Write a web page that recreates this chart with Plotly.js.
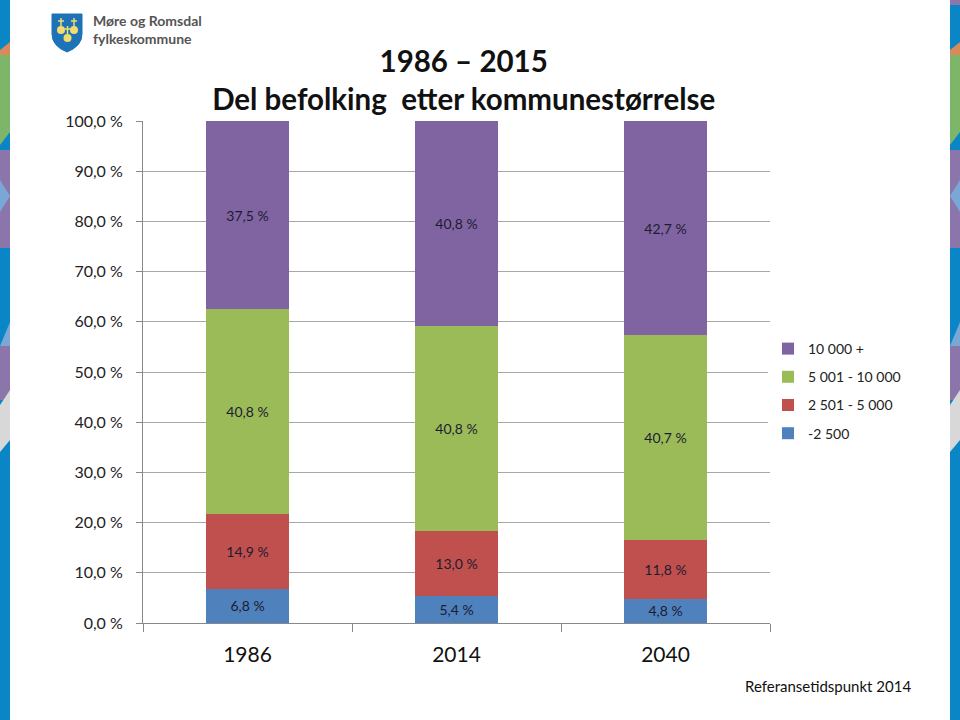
<!DOCTYPE html>
<html><head><meta charset="utf-8">
<script src="https://cdn.plot.ly/plotly-3.0.1.min.js"></script>
<style>body{margin:0;background:#fff}#chart{width:960px;height:720px}</style>
</head><body><div id="chart"></div>
<script>
const years = ["1986", "2014", "2040"];
const seriesNames = ["-2 500", "2 501 - 5 000", "5 001 - 10 000", "10 000 +"];
const small = [6.8, 5.4, 4.8];
const mid = [14.9, 13.0, 11.8];
const large = [40.8, 40.8, 40.7];
const biggest = [37.5, 40.8, 42.7];
const yTicks = [0, 10, 20, 30, 40, 50, 60, 70, 80, 90, 100];
const yTickText = yTicks.map(v => v.toFixed(1).replace(".", ",") + " %");

const colors = ["#4f81bd", "#c0504d", "#9bbb59", "#8064a2"];
const values = [small, mid, large, biggest];

const FONT = "Lato, 'Open Sans', sans-serif";

const traces = values.map((v, i) => ({
  type: "bar",
  name: seriesNames[i],
  x: years,
  y: v,
  width: 0.4,
  marker: {color: colors[i]},
  legendgroup: "g" + i,
  legendrank: 1000 - i,
  texttemplate: "%{y:.1f} %",
  textposition: "inside",
  insidetextanchor: "middle",
  textangle: 0,
  constraintext: "none",
  textfont: {family: FONT, size: 14, color: "#1c1c30"},
  hoverinfo: "skip"
}));

// pixel -> paper helpers for decoration
const L = 143, R = 770, T = 121, B = 623;
const px = x => (x - L) / (R - L);
const py = y => (B - y) / (B - T);
function rect(x0, y0, x1, y1, c) {
  return {type: "rect", xref: "paper", yref: "paper", x0: px(x0), x1: px(x1), y0: py(y1), y1: py(y0),
    fillcolor: c, line: {width: 0}, layer: "above"};
}
function poly(pts, c) {
  const d = "M" + pts.map(p => px(p[0]) + "," + py(p[1])).join(" L") + " Z";
  return {type: "path", xref: "paper", yref: "paper", path: d, fillcolor: c, line: {width: 0}, layer: "above"};
}
const BLUE = "#0a86c6", GREEN = "#7db56a", PURPLE = "#8a76aa", ORANGE = "#d98a5a", LBLUE = "#7aa8d6", GREY = "#d8d8d8";
function stripe(x0, x1, dir) {
  const s = [];
  s.push(rect(x0, 0, x1, 720, BLUE));
  s.push(poly([[x0, 50], [x1, 42], [x1, 55], [x0, 55]], ORANGE));
  s.push(poly([[x0, 55], [x1, 55], [x1, 132], [x0, 145]], GREEN));
  s.push(rect(x0, 150, x1, 248, PURPLE));
  const tip = dir > 0 ? x1 : x0, base = dir > 0 ? x0 : x1;
  s.push(poly([[base, 180], [tip, 196], [base, 212]], LBLUE));
  s.push(poly([[x0, 346], [x1, 322], [x1, 346]], LBLUE));
  s.push(rect(x0, 346, x1, 400, PURPLE));
  s.push(poly([[x0, 405], [x1, 390], [x1, 440], [x0, 452]], GREY));
  return s;
}
const shapes = [].concat(stripe(0, 10, 1), stripe(950, 960, -1));
shapes.push(rect(950, 0, 960, 5, PURPLE));
// logo shield
shapes.push({type: "path", xref: "paper", yref: "paper",
  path: "M" + px(52) + "," + py(14) + " L" + px(82) + "," + py(14) + " L" + px(82) + "," + py(34) +
        " Q" + px(82) + "," + py(46) + " " + px(67) + "," + py(52) +
        " Q" + px(52) + "," + py(46) + " " + px(52) + "," + py(34) + " Z",
  fillcolor: "#1d72b8", line: {color: "#1d72b8", width: 1}, layer: "above"});
[[61, 30], [74, 30], [67.5, 38]].forEach(c => {
  shapes.push({type: "circle", xref: "paper", yref: "paper", x0: px(c[0] - 4), x1: px(c[0] + 4),
    y0: py(c[1] + 4), y1: py(c[1] - 4), fillcolor: "#f2dc6e", line: {width: 0}, layer: "above"});
  shapes.push({type: "line", xref: "paper", yref: "paper", x0: px(c[0]), x1: px(c[0]), y0: py(c[1] - 4), y1: py(c[1] - 12),
    line: {color: "#f2dc6e", width: 1.5}, layer: "above"});
  shapes.push({type: "line", xref: "paper", yref: "paper", x0: px(c[0] - 3), x1: px(c[0] + 3), y0: py(c[1] - 9), y1: py(c[1] - 9),
    line: {color: "#f2dc6e", width: 1.5}, layer: "above"});
});

const annotations = [
  {xref: "paper", yref: "paper", x: px(91), y: py(29.5), xanchor: "left", yanchor: "middle", showarrow: false,
   align: "left",
   text: "<b>Møre og Romsdal</b><br><b>fylkeskommune</b>", font: {family: FONT, size: 14, color: "#555"}},
  {xref: "paper", yref: "paper", x: px(828), y: py(686), xanchor: "center", yanchor: "middle", showarrow: false,
   text: "Referansetidspunkt 2014", font: {family: FONT, size: 15, color: "#111"}}
];

const layout = {
  width: 960, height: 720,
  paper_bgcolor: "#fff", plot_bgcolor: "#fff",
  separators: ", ",
  barmode: "stack",
  margin: {l: L, r: 960 - R, t: T, b: 720 - B, pad: 0},
  font: {family: FONT, color: "#222"},
  title: {
    text: "<b>1986 – 2015</b><br><b>Del befolking\u00a0 etter kommunestørrelse</b>",
    x: 0.483, xanchor: "center", xref: "container",
    y: 1 - 72 / 720, yanchor: "top", yref: "container",
    font: {family: FONT, size: 29.5, color: "#111"}
  },
  xaxis: {
    type: "category",
    tickson: "boundaries",
    ticks: "outside", ticklen: 8, tickcolor: "#888", tickwidth: 1,
    showline: true, linecolor: "#888", linewidth: 1,
    showgrid: false,
    tickfont: {family: FONT, size: 21, color: "#111"},
    ticklabelstandoff: 13,
    fixedrange: true
  },
  yaxis: {
    range: [0, 100],
    tickmode: "array",
    tickvals: yTicks,
    ticktext: yTickText,
    ticks: "outside", ticklen: 6, tickcolor: "#888",
    showline: true, linecolor: "#888", linewidth: 1,
    showgrid: true, gridcolor: "#a8a8a8", gridwidth: 1,
    zeroline: false,
    tickfont: {family: FONT, size: 16, color: "#222"},
    ticklabelstandoff: 10,
    fixedrange: true
  },
  legend: {
    x: px(768), y: py(333), xanchor: "left", yanchor: "top",
    traceorder: "grouped",
    tracegroupgap: 7,
    font: {family: FONT, size: 14, color: "#222"},
    itemwidth: 30
  },
  hovermode: false,
  shapes: shapes,
  annotations: annotations
};

Plotly.newPlot("chart", traces, layout, {displayModeBar: false, staticPlot: true});
</script>
</body></html>
